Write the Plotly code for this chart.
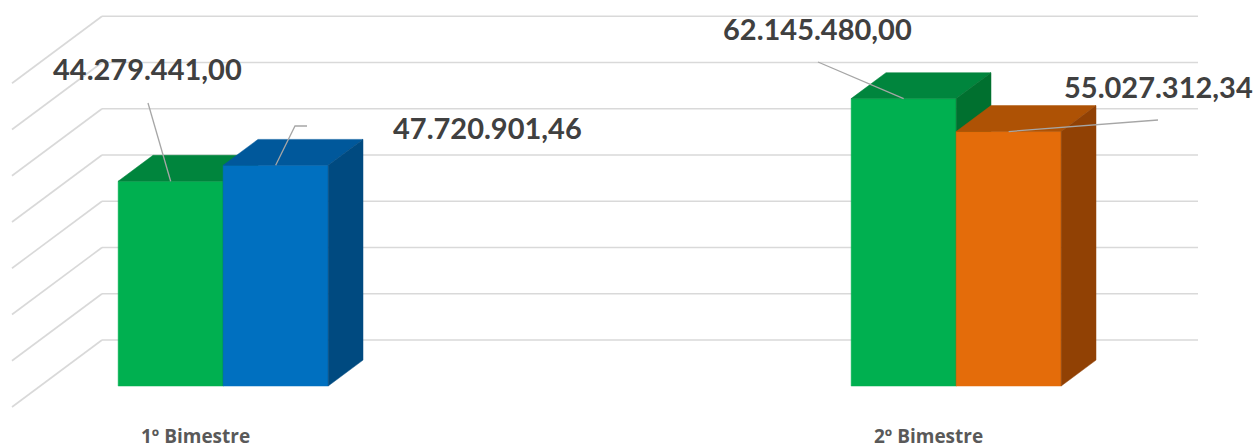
import plotly.graph_objects as go

categories = ["1º Bimestre", "2º Bimestre"]
green_values = [44279441.00, 62145480.00]
other_values = [47720901.46, 55027312.34]
grid_levels = [0, 10_000_000, 20_000_000, 30_000_000, 40_000_000, 50_000_000, 60_000_000, 70_000_000]

# front, top, side shades
GREEN = ("#00b050", "#00853d", "#00702f")
BLUE = ("#0070c0", "#00589b", "#004a80")
ORANGE = ("#e46c0a", "#ae5205", "#914104")
other_colors = [BLUE, ORANGE]

W, H = 1255, 448
PX_PER_UNIT = 46.25 / 10_000_000
FLOOR_Y = 407  # pixel row of value 0 at the front edge of the floor
DEPTH_DX, DEPTH_DY = 90, 67
Z_FRONT, Z_BACK = 0.313, 0.70
CAT_X = [195, 928]
BAR_W = 105
WALL_X = (12, 1108)

# label placement (pixels): text centre, leader start, optional elbow
label_pos = [(147, 68), (487, 127), (817, 28), (1158, 86)]
leader_start = [(148, 103), (307, 126), (818, 62), (1158, 120)]
leader_elbow = [None, (295, 126), None, None]


def proj(x, v, z):
    return x + z * DEPTH_DX, v + z * DEPTH_DY / PX_PER_UNIT


def py(ypx):
    return (FLOOR_Y - ypx) / PX_PER_UNIT


def br(v):
    return f"{v:,.2f}".replace(",", "X").replace(".", ",").replace("X", ".")


fig = go.Figure()

# walls
gx, gy = [], []
for lvl in grid_levels:
    for a, b in [((WALL_X[0], lvl, 1), (WALL_X[1], lvl, 1)), ((WALL_X[0], lvl, 0), (WALL_X[0], lvl, 1))]:
        p, q = proj(*a), proj(*b)
        gx += [p[0], q[0], None]
        gy += [p[1], q[1], None]
fig.add_trace(go.Scatter(x=gx, y=gy, mode="lines", line=dict(color="#d9d9d9", width=1.6),
                         hoverinfo="skip", showlegend=False))


def add_box(x0, value, colors):
    front, top, side = colors
    x1 = x0 + BAR_W
    faces = [
        ([(x0, 0, Z_FRONT), (x1, 0, Z_FRONT), (x1, value, Z_FRONT), (x0, value, Z_FRONT)], front),
        ([(x0, value, Z_FRONT), (x1, value, Z_FRONT), (x1, value, Z_BACK), (x0, value, Z_BACK)], top),
        ([(x1, 0, Z_FRONT), (x1, value, Z_FRONT), (x1, value, Z_BACK), (x1, 0, Z_BACK)], side),
    ]
    for pts, color in faces:
        xs, ys = zip(*(proj(*p) for p in pts))
        fig.add_trace(go.Scatter(x=list(xs) + [xs[0]], y=list(ys) + [ys[0]], fill="toself",
                                 fillcolor=color, mode="lines", line=dict(color=color, width=0.5),
                                 hoverinfo="skip", showlegend=False))
    return proj(x0 + BAR_W / 2, value, Z_FRONT)


bars = []
for i in range(len(categories)):
    bars.append((CAT_X[i] - BAR_W, green_values[i], GREEN))
    bars.append((CAT_X[i], other_values[i], other_colors[i]))

tips = [add_box(*b) for b in bars]

for (x0, value, _), tip, pos, start, elbow in zip(bars, tips, label_pos, leader_start, leader_elbow):
    pts = [start] + ([elbow] if elbow else [])
    lx = [p[0] for p in pts] + [tip[0]]
    ly = [py(p[1]) for p in pts] + [tip[1]]
    fig.add_trace(go.Scatter(x=lx, y=ly, mode="lines", line=dict(color="#a6a6a6", width=1.3),
                             hoverinfo="skip", showlegend=False))
    fig.add_annotation(x=pos[0], y=py(pos[1]), text=br(value), showarrow=False,
                       xanchor="center", yanchor="middle",
                       font=dict(family="Lato", size=29, color="#404040", weight="bold"))

for cx, cat in zip(CAT_X, categories):
    fig.add_annotation(x=cx, y=py(436), text=cat, showarrow=False, xanchor="center", yanchor="middle",
                       font=dict(family="Open Sans", size=19, color="#595959", weight="bold"))

fig.update_layout(
    width=W, height=H, margin=dict(l=0, r=0, t=0, b=0),
    paper_bgcolor="white", plot_bgcolor="white",
    xaxis=dict(range=[0, W], visible=False, fixedrange=True),
    yaxis=dict(range=[py(H), py(0)], visible=False, fixedrange=True),
)

fig.write_html("out.html", config={"displayModeBar": False},
               post_script="document.body.style.margin = '0';")
